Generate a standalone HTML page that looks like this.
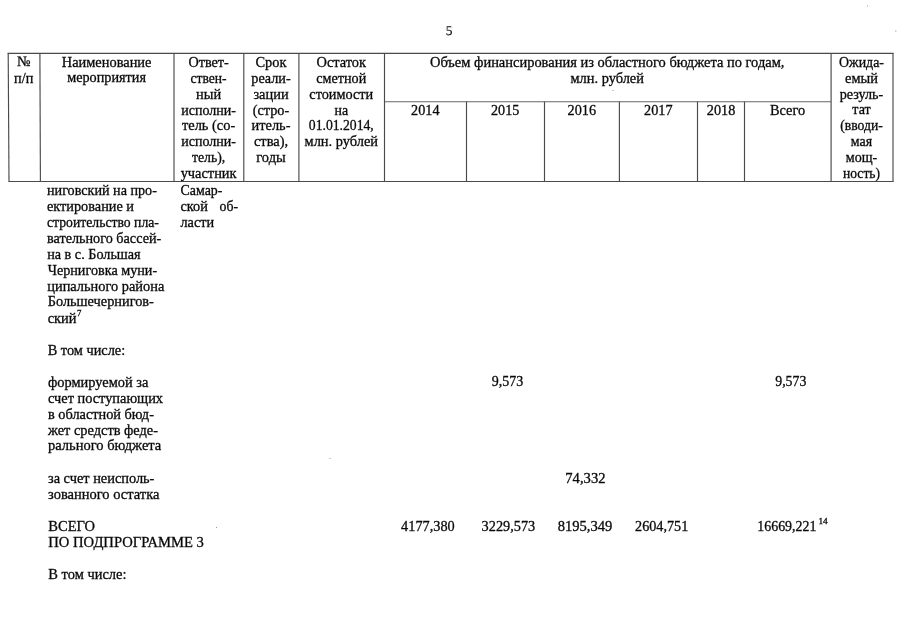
<!DOCTYPE html>
<html lang="ru"><head><meta charset="utf-8"><title>5</title>
<style>
html,body{margin:0;padding:0;background:#fff;}
body{width:905px;height:640px;overflow:hidden;}
svg{display:block;}
text{font-family:"Liberation Serif","Times New Roman",serif;font-size:14.4px;fill:#0a0a0a;stroke:#0a0a0a;stroke-width:0.3px;}
.sup{font-size:8.8px;}
line{stroke:#4a4a4a;}
line.lt{stroke:#666;}
</style></head><body>
<svg width="905" height="640" viewBox="0 0 905 640">
<rect width="905" height="640" fill="#fff"/>
<g>
<line x1="7.6" y1="53.3" x2="893.6" y2="53.3" stroke-width="1.15"/>
<line x1="8.4" y1="181.5" x2="893.6" y2="181.5" stroke-width="1.15"/>
<line x1="384.5" y1="101.7" x2="831.1" y2="101.7" stroke-width="1.15" class="lt"/>
<line x1="8.2" y1="53.3" x2="9.0" y2="181.5" stroke-width="1.15"/>
<line x1="39.9" y1="53.3" x2="40.4" y2="181.5" stroke-width="1.15"/>
<line x1="174" y1="53.3" x2="174" y2="181.5" stroke-width="1.15"/>
<line x1="243.8" y1="53.3" x2="243.8" y2="181.5" stroke-width="1.15"/>
<line x1="298.9" y1="53.3" x2="298.9" y2="181.5" stroke-width="1.15"/>
<line x1="384.5" y1="53.3" x2="384.5" y2="181.5" stroke-width="1.15"/>
<line x1="466.5" y1="101.7" x2="466.5" y2="181.5" stroke-width="1.15"/>
<line x1="544.5" y1="101.7" x2="544.5" y2="181.5" stroke-width="1.15"/>
<line x1="619.4" y1="101.7" x2="619.4" y2="181.5" stroke-width="1.15"/>
<line x1="697.5" y1="101.7" x2="697.5" y2="181.5" stroke-width="1.15"/>
<line x1="744.5" y1="101.7" x2="744.5" y2="181.5" stroke-width="1.15"/>
<line x1="831.1" y1="53.3" x2="831.1" y2="181.5" stroke-width="1.15"/>
<line x1="893.0" y1="53.3" x2="893.0" y2="181.5" stroke-width="1.15"/>
</g>
<g>
<text x="449.1" y="35.3" text-anchor="middle" style="font-size:13.4px;stroke-width:0.15px;text-rendering:geometricPrecision">5</text>
<text x="23.6" y="65.9" text-anchor="middle">№</text>
<text x="23.7" y="83.0" text-anchor="middle" textLength="19.2" lengthAdjust="spacingAndGlyphs">п/п</text>
<text x="106.6" y="66.6" text-anchor="middle">Наименование</text>
<text x="106.6" y="82.4" text-anchor="middle" textLength="78.8" lengthAdjust="spacingAndGlyphs">мероприятия</text>
<text x="208.6" y="66.9" text-anchor="middle" textLength="40.3" lengthAdjust="spacingAndGlyphs">Ответ-</text>
<text x="208.6" y="82.8" text-anchor="middle" textLength="36.1" lengthAdjust="spacingAndGlyphs">ствен-</text>
<text x="208.6" y="98.6" text-anchor="middle">ный</text>
<text x="208.6" y="114.5" text-anchor="middle" textLength="54.7" lengthAdjust="spacingAndGlyphs">исполни-</text>
<text x="208.6" y="130.3" text-anchor="middle">тель (со-</text>
<text x="208.6" y="146.2" text-anchor="middle" textLength="54.7" lengthAdjust="spacingAndGlyphs">исполни-</text>
<text x="208.6" y="162.0" text-anchor="middle" textLength="33.3" lengthAdjust="spacingAndGlyphs">тель),</text>
<text x="208.6" y="177.9" text-anchor="middle">участник</text>
<text x="271.0" y="66.9" text-anchor="middle">Срок</text>
<text x="271.0" y="82.8" text-anchor="middle" textLength="39.4" lengthAdjust="spacingAndGlyphs">реали-</text>
<text x="271.0" y="98.6" text-anchor="middle">зации</text>
<text x="271.0" y="114.5" text-anchor="middle" textLength="36.6" lengthAdjust="spacingAndGlyphs">(стро-</text>
<text x="271.0" y="130.3" text-anchor="middle">итель-</text>
<text x="271.0" y="146.2" text-anchor="middle">ства),</text>
<text x="271.0" y="162.0" text-anchor="middle">годы</text>
<text x="341.3" y="66.9" text-anchor="middle">Остаток</text>
<text x="341.3" y="82.8" text-anchor="middle" textLength="49.9" lengthAdjust="spacingAndGlyphs">сметной</text>
<text x="341.3" y="98.6" text-anchor="middle" textLength="63.9" lengthAdjust="spacingAndGlyphs">стоимости</text>
<text x="341.3" y="114.5" text-anchor="middle" textLength="13.6" lengthAdjust="spacingAndGlyphs">на</text>
<text x="341.3" y="130.3" text-anchor="middle" textLength="65.0" lengthAdjust="spacingAndGlyphs">01.01.2014,</text>
<text x="341.3" y="146.2" text-anchor="middle">млн. рублей</text>
<text x="607.2" y="66.8" text-anchor="middle" textLength="354.5" lengthAdjust="spacingAndGlyphs">Объем финансирования из областного бюджета по годам,</text>
<text x="607.2" y="82.6" text-anchor="middle">млн. рублей</text>
<text x="425.3" y="114.9" text-anchor="middle" textLength="28.4" lengthAdjust="spacingAndGlyphs">2014</text>
<text x="505.2" y="114.9" text-anchor="middle" textLength="28.3" lengthAdjust="spacingAndGlyphs">2015</text>
<text x="581.8" y="114.9" text-anchor="middle" textLength="28.5" lengthAdjust="spacingAndGlyphs">2016</text>
<text x="658.3" y="114.9" text-anchor="middle" textLength="28.5" lengthAdjust="spacingAndGlyphs">2017</text>
<text x="721.0" y="114.9" text-anchor="middle" textLength="28.5" lengthAdjust="spacingAndGlyphs">2018</text>
<text x="787.5" y="114.9" text-anchor="middle" textLength="35.2" lengthAdjust="spacingAndGlyphs">Всего</text>
<text x="861.5" y="67.0" text-anchor="middle" textLength="44.9" lengthAdjust="spacingAndGlyphs">Ожида-</text>
<text x="861.5" y="82.8" text-anchor="middle">емый</text>
<text x="861.5" y="98.6" text-anchor="middle" textLength="43.6" lengthAdjust="spacingAndGlyphs">резуль-</text>
<text x="861.5" y="114.4" text-anchor="middle" textLength="18.4" lengthAdjust="spacingAndGlyphs">тат</text>
<text x="861.5" y="130.2" text-anchor="middle" textLength="42.7" lengthAdjust="spacingAndGlyphs">(вводи-</text>
<text x="861.5" y="146.0" text-anchor="middle" textLength="21.3" lengthAdjust="spacingAndGlyphs">мая</text>
<text x="861.5" y="161.8" text-anchor="middle" textLength="31.6" lengthAdjust="spacingAndGlyphs">мощ-</text>
<text x="861.5" y="177.6" text-anchor="middle" textLength="37.0" lengthAdjust="spacingAndGlyphs">ность)</text>
<text x="47.0" y="194.8" textLength="109.9" lengthAdjust="spacingAndGlyphs">ниговский на про-</text>
<text x="47.0" y="210.8" textLength="87.0" lengthAdjust="spacingAndGlyphs">ектирование и</text>
<text x="47.0" y="226.7" textLength="111.9" lengthAdjust="spacingAndGlyphs">строительство пла-</text>
<text x="47.0" y="242.7" textLength="114.3" lengthAdjust="spacingAndGlyphs">вательного бассей-</text>
<text x="47.2" y="258.6" textLength="93.4" lengthAdjust="spacingAndGlyphs">на в с. Большая</text>
<text x="47.7" y="274.6" textLength="109.5" lengthAdjust="spacingAndGlyphs">Черниговка муни-</text>
<text x="47.3" y="290.5" textLength="117.0" lengthAdjust="spacingAndGlyphs">ципального района</text>
<text x="47.7" y="306.4" textLength="106.2" lengthAdjust="spacingAndGlyphs">Большечернигов-</text>
<text x="47.7" y="322.6" textLength="28.8" lengthAdjust="spacingAndGlyphs">ский</text>
<text x="77.0" y="316.4" class="sup">7</text>
<text x="180.5" y="195.1" textLength="41.9" lengthAdjust="spacingAndGlyphs">Самар-</text>
<text x="180.5" y="210.9" textLength="27.4" lengthAdjust="spacingAndGlyphs">ской</text>
<text x="219.5" y="210.9" textLength="18.5" lengthAdjust="spacingAndGlyphs">об-</text>
<text x="180.5" y="226.6" textLength="33.6" lengthAdjust="spacingAndGlyphs">ласти</text>
<text x="47.7" y="354.7" textLength="77.5" lengthAdjust="spacingAndGlyphs">В том числе:</text>
<text x="48.0" y="386.6" textLength="100.4" lengthAdjust="spacingAndGlyphs">формируемой за</text>
<text x="48.0" y="402.6" textLength="115.0" lengthAdjust="spacingAndGlyphs">счет поступающих</text>
<text x="48.0" y="418.5" textLength="105.9" lengthAdjust="spacingAndGlyphs">в областной бюд-</text>
<text x="48.0" y="434.5" textLength="110.0" lengthAdjust="spacingAndGlyphs">жет средств феде-</text>
<text x="48.0" y="450.4" textLength="113.3" lengthAdjust="spacingAndGlyphs">рального бюджета</text>
<text x="48.0" y="482.8" textLength="106.4" lengthAdjust="spacingAndGlyphs">за счет неисполь-</text>
<text x="48.0" y="498.8" textLength="111.4" lengthAdjust="spacingAndGlyphs">зованного остатка</text>
<text x="48.3" y="530.7" textLength="46.7" lengthAdjust="spacingAndGlyphs">ВСЕГО</text>
<text x="48.3" y="546.9" textLength="155.5" lengthAdjust="spacingAndGlyphs">ПО ПОДПРОГРАММЕ 3</text>
<text x="48.3" y="578.7" textLength="78.2" lengthAdjust="spacingAndGlyphs">В том числе:</text>
<text x="507.4" y="386.2" text-anchor="middle" textLength="31.5" lengthAdjust="spacingAndGlyphs">9,573</text>
<text x="790.8" y="386.2" text-anchor="middle" textLength="31.1" lengthAdjust="spacingAndGlyphs">9,573</text>
<text x="585.4" y="482.7" text-anchor="middle" textLength="40.2" lengthAdjust="spacingAndGlyphs">74,332</text>
<text x="427.9" y="530.6" text-anchor="middle" textLength="53.6" lengthAdjust="spacingAndGlyphs">4177,380</text>
<text x="508.4" y="530.6" text-anchor="middle" textLength="53.6" lengthAdjust="spacingAndGlyphs">3229,573</text>
<text x="585.0" y="530.6" text-anchor="middle" textLength="54.6" lengthAdjust="spacingAndGlyphs">8195,349</text>
<text x="661.7" y="530.6" text-anchor="middle" textLength="53.2" lengthAdjust="spacingAndGlyphs">2604,751</text>
<text x="757.3" y="530.7" textLength="59.1" lengthAdjust="spacingAndGlyphs">16669,221</text>
<text x="818.5" y="524.3" class="sup" textLength="9.2" lengthAdjust="spacingAndGlyphs">14</text>
</g>
<g fill="#999">
<rect x="867" y="5.5" width="1" height="1"/><rect x="895.3" y="30.5" width="1" height="1.2"/><rect x="612.5" y="90" width="1" height="1"/>
<rect x="329.5" y="458" width="1" height="1"/><rect x="216" y="527" width="1" height="1"/>
</g>
</svg>
</body></html>
